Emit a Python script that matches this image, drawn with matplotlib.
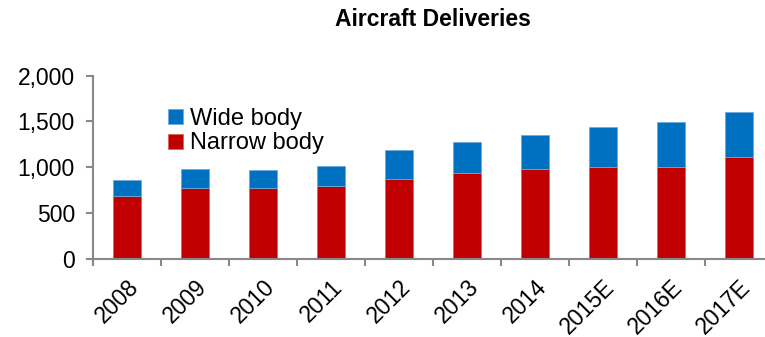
import matplotlib.pyplot as plt
from matplotlib.ticker import FuncFormatter

years = ["2008", "2009", "2010", "2011", "2012", "2013", "2014", "2015E", "2016E", "2017E"]
narrow_body = [680, 778, 778, 792, 872, 934, 978, 1007, 1007, 1109]
total = [858, 982, 971, 1011, 1190, 1274, 1350, 1442, 1493, 1602]
wide_body = [t - n for t, n in zip(total, narrow_body)]

plt.rcParams['font.family'] = ['Liberation Sans', 'DejaVu Sans']

fig = plt.figure(figsize=(7.65, 3.37), dpi=100)
ax = fig.add_axes([93 / 765, 0.2323, 680 / 765, 0.5431])

x = range(len(years))
ax.bar(x, narrow_body, width=0.4, color='#C00000', edgecolor='#e06060',
       linewidth=0.6, label='Narrow body')
ax.bar(x, wide_body, bottom=narrow_body, width=0.4, color='#0070C0',
       edgecolor='#6fa8dc', linewidth=0.6, label='Wide body')

ax.set_xlim(-0.5, len(years) - 0.5)
ax.set_ylim(0, 2000)
ax.set_yticks([0, 500, 1000, 1500, 2000])
ax.yaxis.set_major_formatter(FuncFormatter(lambda v, p: f"{int(v):,}"))

# ticks sit between categories, labels at the centres
ax.set_xticks([i - 0.5 for i in range(len(years) + 1)])
ax.set_xticklabels([])
ax.set_xticks(list(x), minor=True)
ax.set_xticklabels(years, minor=True, rotation=45, ha='right',
                   rotation_mode='anchor', fontsize=16.5)
ax.tick_params(axis='x', which='minor', length=0, pad=12)
ax.tick_params(axis='x', which='major', length=5, color='#888888', width=1.5)
ax.tick_params(axis='y', length=5, color='#888888', width=1.5,
               labelsize=16.5, pad=8)

for side in ['top', 'right']:
    ax.spines[side].set_visible(False)
for side in ['left', 'bottom']:
    ax.spines[side].set_color('#888888')
    ax.spines[side].set_linewidth(1.5)

ax.set_title("Aircraft Deliveries", fontsize=16.5, fontweight='bold', pad=36)

handles, labels = ax.get_legend_handles_labels()
ax.legend(handles[::-1], labels[::-1], loc='upper left',
          bbox_to_anchor=(0.097, 0.875), frameon=False, fontsize=17,
          handlelength=0.6, handleheight=0.6, handletextpad=0.3,
          labelspacing=0.1, borderaxespad=0)

fig.savefig("out.png", dpi=100)
